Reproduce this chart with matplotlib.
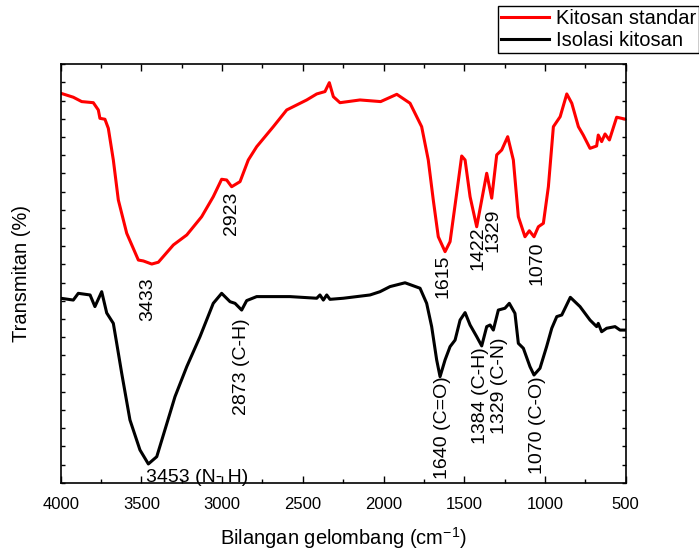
import matplotlib
matplotlib.use('Agg')
import matplotlib.pyplot as plt
from matplotlib.ticker import MultipleLocator, NullFormatter

plt.rcParams['font.family'] = ['Liberation Sans', 'DejaVu Sans']
plt.rcParams['mathtext.fontset'] = 'custom'
plt.rcParams['mathtext.rm'] = 'Liberation Sans'

# FTIR spectra (wavenumber cm-1, transmittance in arbitrary offset units)
wn_std = [4000, 3922, 3870, 3798, 3767, 3757, 3726, 3705, 3674, 3643, 3591, 3519, 3488, 3436, 3395,
          3302, 3219, 3127, 3055, 3003, 2972, 2941, 2889, 2838, 2786, 2683, 2600, 2476, 2414, 2363,
          2336, 2311, 2270, 2146, 2018, 1918, 1836, 1764, 1723, 1692, 1661, 1619, 1588, 1547, 1516,
          1495, 1464, 1423, 1392, 1361, 1330, 1299, 1268, 1231, 1196, 1165, 1124, 1097, 1068, 1041,
          1010, 979, 948, 906, 865, 834, 793, 763, 721, 680, 670, 649, 628, 601, 556, 500]
t_std = [21.41, 21.19, 20.95, 20.89, 20.49, 20.03, 19.98, 19.48, 17.74, 15.54, 13.71, 12.24, 12.19, 12.02, 12.12,
         13.07, 13.62, 14.62, 15.72, 16.68, 16.64, 16.27, 16.55, 17.74, 18.47, 19.57, 20.49, 21.04, 21.37, 21.50,
         21.99, 21.22, 20.89, 21.04, 20.95, 21.35, 20.86, 19.57, 17.74, 15.54, 13.52, 12.70, 13.25, 15.91, 17.96,
         17.74, 15.72, 14.07, 15.54, 17.01, 15.64, 18.02, 18.29, 19.02, 17.74, 14.62, 13.52, 13.85, 13.52, 14.07,
         14.26, 16.27, 19.57, 20.12, 21.37, 20.86, 19.57, 19.11, 18.38, 18.51, 19.11, 18.75, 19.17, 18.84, 20.09, 19.98]

wn_iso = [4000, 3922, 3891, 3818, 3788, 3746, 3715, 3674, 3653, 3622, 3571, 3509, 3457, 3405, 3323,
          3292, 3219, 3137, 3055, 3003, 2951, 2920, 2879, 2848, 2786, 2580, 2414, 2394, 2373, 2352,
          2332, 2249, 2084, 2022, 1960, 1867, 1774, 1733, 1702, 1671, 1650, 1619, 1588, 1557, 1526,
          1495, 1464, 1423, 1392, 1361, 1340, 1320, 1289, 1248, 1221, 1186, 1165, 1134, 1093, 1068,
          1031, 990, 958, 927, 896, 843, 783, 721, 680, 670, 649, 618, 566, 535, 504]
t_iso = [10.14, 10.04, 10.41, 10.32, 9.68, 10.50, 9.33, 8.76, 7.66, 6.01, 3.45, 1.80, 1.03, 1.43, 3.82,
         4.73, 6.38, 8.03, 9.86, 10.41, 9.95, 9.86, 9.49, 10.01, 10.23, 10.23, 10.14, 10.32, 10.04, 10.32,
         10.08, 10.14, 10.32, 10.50, 10.78, 10.99, 10.69, 9.86, 8.58, 6.75, 5.83, 6.75, 7.48, 7.84, 8.94,
         9.35, 8.67, 8.03, 7.52, 8.58, 8.67, 8.39, 9.49, 9.59, 9.86, 9.31, 7.66, 7.39, 6.38, 5.92,
         6.29, 7.48, 8.49, 9.13, 9.22, 10.19, 9.68, 8.94, 8.58, 8.76, 8.30, 8.49, 8.58, 8.39, 8.39]

# peak labels: text, wavenumber, level of label top
std_labels = ['3433', '2923', '1615', '1422', '1329', '1070']
std_lab_x = [3459, 2942, 1630, 1413, 1320, 1051]
std_lab_y = [11.31, 16.0, 12.52, 14.07, 15.08, 13.25]

iso_labels = ['2873 (C-H)', '1640 (C=O)', '1384 (C-H)', '1329 (C-N)', '1070 (C-O)']
iso_lab_x = [2879, 1635, 1402, 1279, 1046]
iso_lab_y = [9.04, 5.83, 7.44, 7.99, 5.83]

fig = plt.figure(figsize=(6.99, 5.52), dpi=100)
ax = fig.add_axes([60.7/699, 1-482.7/552, 565/699, 418.4/552])

ax.plot(wn_std, t_std, color='#ff0000', lw=2.2, label='Kitosan standar')
ax.plot(wn_iso, t_iso, color='black', lw=2.2, label='Isolasi kitosan')

fs = 14
for s, x, y in zip(std_labels, std_lab_x, std_lab_y):
    ax.text(x, y, s, rotation=90, ha='center', va='top', fontsize=fs)
for s, x, y in zip(iso_labels, iso_lab_x, iso_lab_y):
    ax.text(x, y, s, rotation=90, ha='center', va='top', fontsize=fs)
ax.text(3472, 0.75, '3453 (N- H)', ha='left', va='top', fontsize=fs)

ax.set_xlim(4000, 500)
ax.set_ylim(0, 23)
ax.xaxis.set_major_locator(MultipleLocator(500))
ax.xaxis.set_minor_locator(MultipleLocator(250))
ax.yaxis.set_major_locator(MultipleLocator(1))
ax.yaxis.set_major_formatter(NullFormatter())
ax.tick_params(axis='x', which='major', direction='in', length=5, width=1, top=True, labelsize=12, pad=10)
ax.tick_params(axis='x', which='minor', direction='in', length=3, width=1, top=True)
ax.tick_params(axis='y', which='major', direction='in', length=3, width=1, right=True)
for sp in ax.spines.values():
    sp.set_linewidth(1.2)

ax.set_xlabel('Bilangan gelombang (cm$^{\\mathregular{-1}}$)', fontsize=14.5, labelpad=10)
ax.set_ylabel('Transmitan (%)', fontsize=14.5, labelpad=18)

leg = ax.legend(loc='upper left', bbox_to_anchor=(497.7/699, 1-6/552), bbox_transform=fig.transFigure,
                fontsize=14.5, frameon=True, fancybox=False, edgecolor='black', framealpha=1,
                borderpad=0.15, labelspacing=0.15, handlelength=2.4, handletextpad=0.35, borderaxespad=0)
leg.get_frame().set_linewidth(1.0)

fig.savefig('out.png', dpi=100)
